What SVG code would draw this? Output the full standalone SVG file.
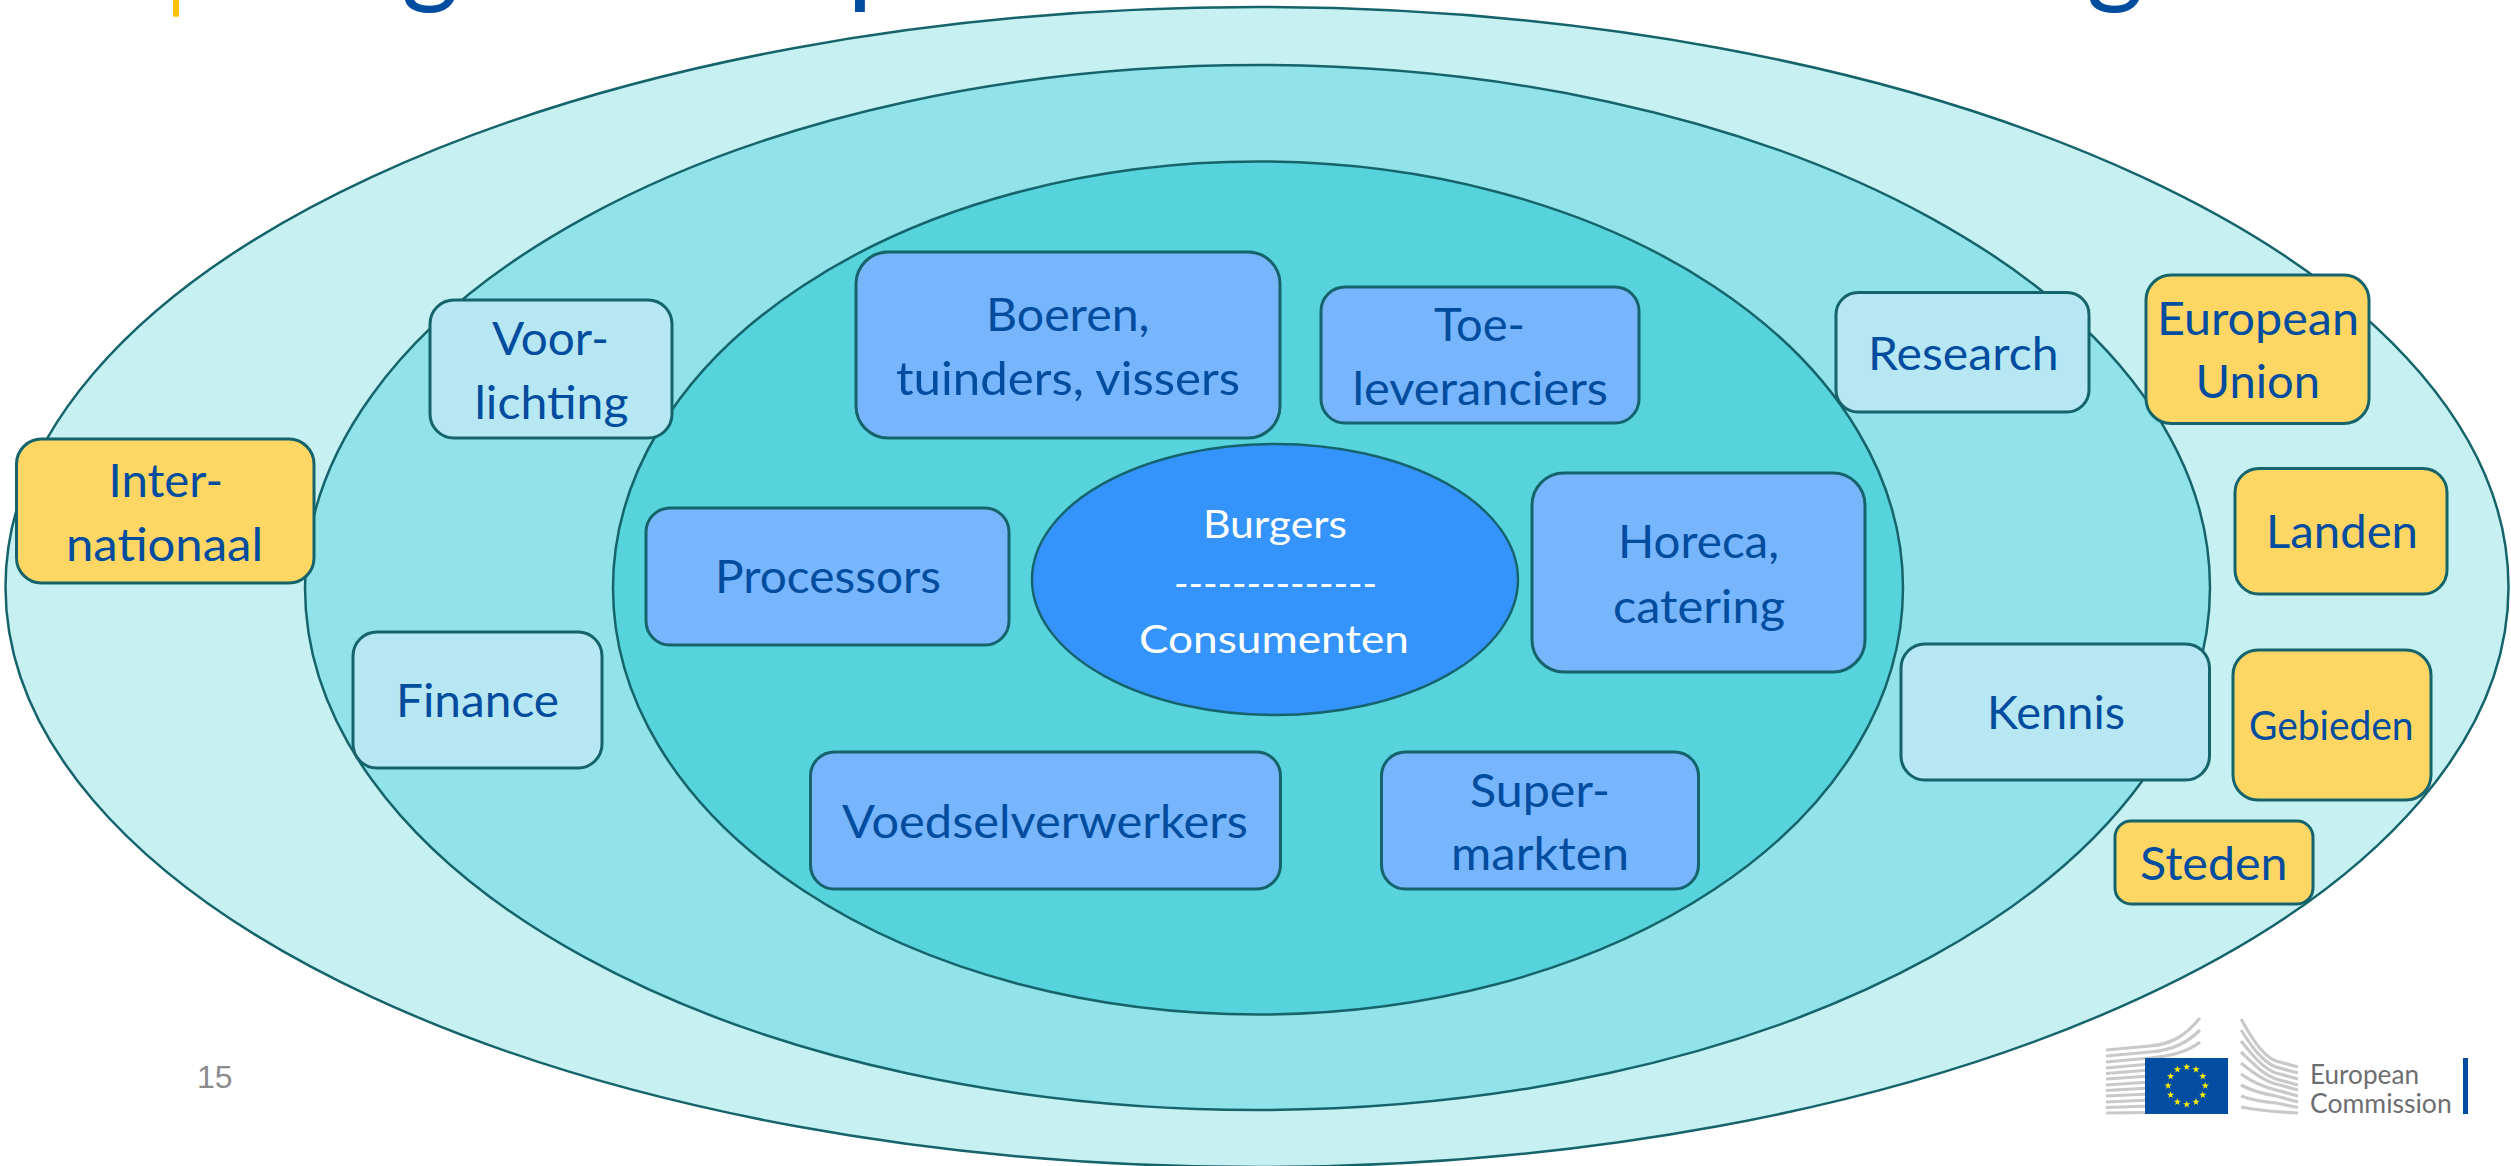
<svg xmlns="http://www.w3.org/2000/svg" xmlns:xlink="http://www.w3.org/1999/xlink" width="2511" height="1166" viewBox="0 0 2511 1166">
<style>
text{font-family:"Lato","Open Sans",sans-serif;text-anchor:start}
.e{stroke:#15646c;stroke-width:2.5}
.b{stroke:#15646c;stroke-width:3}
.y{fill:#fdd663}.l{fill:#77b5fc}.p{fill:#b7e7f2}
.t{fill:#004c9e;font-size:47px}
.s{font-size:41px}
.w{fill:#fff;font-size:39px}
.title{fill:#004c9e;font-size:110px;text-anchor:middle}
.g1{fill:none;stroke:#c9c9c9;stroke-width:3.2}
.lt{fill:#6d6e70;font-size:26px}
.n{font-family:"Liberation Sans",sans-serif;font-size:32px;fill:#8c8c8c}
</style>
<defs><polygon id="star" points="0,-3.8 0.9,-1.2 3.6,-1.2 1.4,0.5 2.2,3.1 0,1.5 -2.2,3.1 -1.4,0.5 -3.6,-1.2 -0.9,-1.2" fill="#ffed00"/></defs>
<rect width="2511" height="1166" fill="#fff"/>
<g id="title">
<rect x="173" y="0" width="6" height="16.7" fill="#ffc000"/>
<text class="title" x="430" y="-7">g</text>
<text class="title" x="878" y="-7">p</text>
<text class="title" x="2115" y="-7">g</text>
</g>
<g id="rings">
<ellipse id="ring-outer" class="e" cx="1257" cy="587" rx="1251.5" ry="580" fill="#c7f0f2"/>
<ellipse id="ring-middle" class="e" cx="1257.5" cy="587.5" rx="952.5" ry="522.5" fill="#90e3e8"/>
<ellipse id="ring-inner" class="e" cx="1258" cy="588" rx="645" ry="426.5" fill="#57d3dc"/>
</g>
<g id="node-burgers"><ellipse class="e" cx="1275" cy="579.5" rx="243" ry="135.5" fill="#3594fc"/>
<text class="w" x="1203" y="538" textLength="144" lengthAdjust="spacingAndGlyphs">Burgers</text>
<text class="w" x="1174" y="597" textLength="203" lengthAdjust="spacingAndGlyphs">--------------</text>
<text class="w" x="1139" y="653" textLength="270" lengthAdjust="spacingAndGlyphs">Consumenten</text></g>
<g id="node-boeren"><rect class="b l" x="856" y="252" width="424" height="186" rx="32"/>
<text class="t" x="986" y="331" textLength="163.500" lengthAdjust="spacingAndGlyphs">Boeren,</text>
<text class="t" x="896" y="395" textLength="344" lengthAdjust="spacingAndGlyphs">tuinders, vissers</text></g>
<g id="node-toeleveranciers"><rect class="b l" x="1321" y="287" width="318" height="136" rx="24"/>
<text class="t" x="1434" y="341" textLength="91" lengthAdjust="spacingAndGlyphs">Toe-</text>
<text class="t" x="1352.500" y="405" textLength="255.500" lengthAdjust="spacingAndGlyphs">leveranciers</text></g>
<g id="node-processors"><rect class="b l" x="646" y="508" width="363" height="137" rx="24"/>
<text class="t" x="715" y="593" textLength="226" lengthAdjust="spacingAndGlyphs">Processors</text></g>
<g id="node-horeca"><rect class="b l" x="1532" y="473" width="333" height="199" rx="32"/>
<text class="t" x="1618" y="558" textLength="161" lengthAdjust="spacingAndGlyphs">Horeca,</text>
<text class="t" x="1613" y="623" textLength="172" lengthAdjust="spacingAndGlyphs">catering</text></g>
<g id="node-voedsel"><rect class="b l" x="810.500" y="752" width="470" height="137" rx="24"/>
<text class="t" x="842" y="838" textLength="406" lengthAdjust="spacingAndGlyphs">Voedselverwerkers</text></g>
<g id="node-super"><rect class="b l" x="1381.500" y="752" width="317" height="137" rx="24"/>
<text class="t" x="1470" y="807" textLength="140" lengthAdjust="spacingAndGlyphs">Super-</text>
<text class="t" x="1451" y="870" textLength="178" lengthAdjust="spacingAndGlyphs">markten</text></g>
<g id="node-voorlichting"><rect class="b p" x="430" y="300" width="242" height="138" rx="24"/>
<text class="t" x="492" y="355" textLength="117" lengthAdjust="spacingAndGlyphs">Voor-</text>
<text class="t" x="474.500" y="419" textLength="154" lengthAdjust="spacingAndGlyphs">lichting</text></g>
<g id="node-finance"><rect class="b p" x="353" y="632" width="249" height="136" rx="24"/>
<text class="t" x="396" y="717" textLength="163" lengthAdjust="spacingAndGlyphs">Finance</text></g>
<g id="node-research"><rect class="b p" x="1836" y="292.500" width="253" height="119.500" rx="22"/>
<text class="t" x="1868" y="370" textLength="190.500" lengthAdjust="spacingAndGlyphs">Research</text></g>
<g id="node-kennis"><rect class="b p" x="1901" y="644" width="308.500" height="136" rx="24"/>
<text class="t" x="1987" y="729" textLength="138" lengthAdjust="spacingAndGlyphs">Kennis</text></g>
<g id="node-internationaal"><rect class="b y" x="16.500" y="439" width="297.500" height="144" rx="25"/>
<text class="t" x="108.500" y="497" textLength="114.500" lengthAdjust="spacingAndGlyphs">Inter-</text>
<text class="t" x="66" y="561" textLength="197" lengthAdjust="spacingAndGlyphs">nationaal</text></g>
<g id="node-eu"><rect class="b y" x="2146" y="275" width="223" height="148.500" rx="25"/>
<text class="t" x="2157" y="334.500" textLength="202" lengthAdjust="spacingAndGlyphs">European</text>
<text class="t" x="2195.500" y="398" textLength="124.500" lengthAdjust="spacingAndGlyphs">Union</text></g>
<g id="node-landen"><rect class="b y" x="2235" y="468.500" width="212" height="125.500" rx="24"/>
<text class="t" x="2266" y="548" textLength="152" lengthAdjust="spacingAndGlyphs">Landen</text></g>
<g id="node-gebieden"><rect class="b y" x="2233" y="650" width="198" height="150" rx="25"/>
<text class="t s" x="2249" y="740" textLength="164.600" lengthAdjust="spacingAndGlyphs">Gebieden</text></g>
<g id="node-steden"><rect class="b y" x="2115" y="821" width="198" height="83" rx="16"/>
<text class="t" x="2140" y="880" textLength="147.500" lengthAdjust="spacingAndGlyphs">Steden</text></g>
<text id="page" class="n" x="197" y="1088">15</text>
<g id="logo">
<g class="g1">
<path d="M2106,1050 L2150,1046 C2172,1044 2185,1036 2200,1018"/>
<path d="M2106,1056 L2150,1052 C2174,1050 2188,1042 2200,1030"/>
<path d="M2106,1062 L2150,1058 C2176,1056 2190,1050 2200,1042"/>
<path d="M2106,1068 L2150,1064"/><path d="M2106,1073.500 L2150,1070"/><path d="M2106,1079 L2150,1076"/><path d="M2106,1085 L2150,1082"/><path d="M2106,1090.500 L2150,1088"/><path d="M2106,1096 L2150,1094"/><path d="M2106,1102 L2150,1100"/><path d="M2106,1107.500 L2150,1106"/><path d="M2106,1113 L2150,1112.500"/>
<path d="M2241,1019 C2250,1035 2262,1056 2276,1061 L2298,1067"/>
<path d="M2241,1030 C2250,1044 2262,1062 2276,1067 L2298,1073"/>
<path d="M2241,1041 C2250,1052 2262,1068 2276,1073 L2298,1079"/>
<path d="M2241,1052 C2252,1062 2262,1074 2276,1079 L2298,1085"/>
<path d="M2241,1063 C2252,1072 2264,1081 2276,1084 L2298,1090"/>
<path d="M2241,1074 C2252,1082 2264,1087 2276,1090 L2298,1096"/>
<path d="M2241,1085 C2252,1091 2264,1094 2276,1096 L2298,1102"/>
<path d="M2241,1096 C2252,1100 2264,1102 2276,1103 L2298,1107.500"/>
<path d="M2241,1107 C2256,1110 2276,1112 2298,1113"/>
</g>
<rect x="2145" y="1058" width="83" height="56" fill="#034ea2"/>
<g>
<use xlink:href="#star" x="2186.700" y="1067"/><use xlink:href="#star" x="2196" y="1069.500"/><use xlink:href="#star" x="2202.800" y="1076.300"/><use xlink:href="#star" x="2205.300" y="1085.700"/><use xlink:href="#star" x="2202.800" y="1095"/><use xlink:href="#star" x="2196" y="1101.900"/><use xlink:href="#star" x="2186.700" y="1104.400"/><use xlink:href="#star" x="2177.400" y="1101.900"/><use xlink:href="#star" x="2170.600" y="1095"/><use xlink:href="#star" x="2168.100" y="1085.700"/><use xlink:href="#star" x="2170.600" y="1076.300"/><use xlink:href="#star" x="2177.400" y="1069.500"/>
</g>
<text class="lt" x="2310" y="1084" textLength="109" lengthAdjust="spacingAndGlyphs">European</text>
<text class="lt" x="2310" y="1113" textLength="141.700" lengthAdjust="spacingAndGlyphs">Commission</text>
<rect x="2463" y="1058" width="5" height="56" fill="#034ea2"/>
</g>
</svg>
